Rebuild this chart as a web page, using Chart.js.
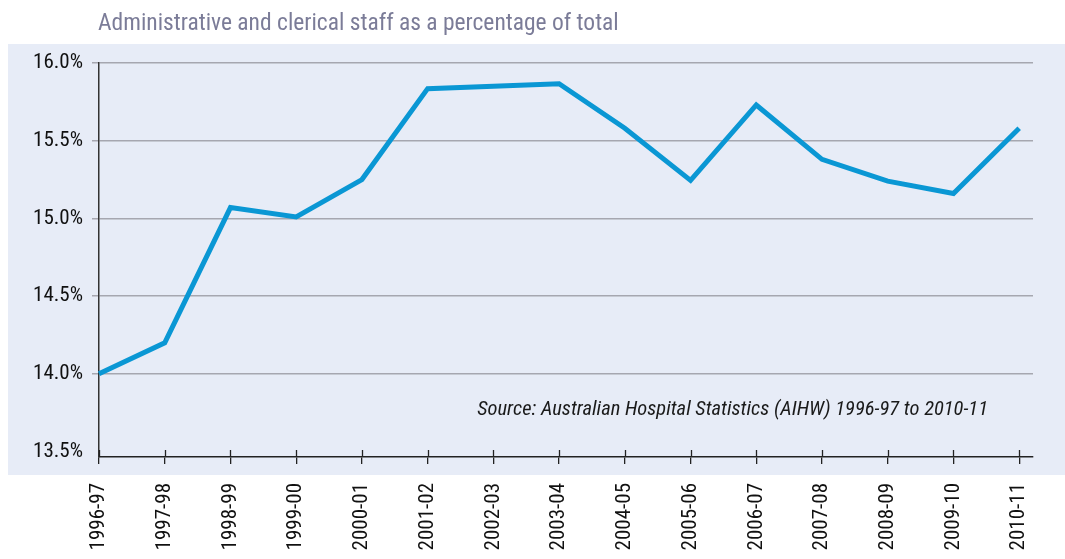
<!DOCTYPE html>
<html>
<head>
<meta charset="utf-8">
<script src="https://cdn.jsdelivr.net/npm/chart.js@4/dist/chart.umd.min.js"></script>
<style>
  html, body { margin:0; padding:0; background:#fff; overflow:hidden; }
  #wrap { width:1065px; height:600px; }
</style>
</head>
<body>
<div id="wrap"><canvas id="chart" width="1065" height="600"></canvas></div>
<script>
// Daten
const years = ['1996-97','1997-98','1998-99','1999-00','2000-01','2001-02','2002-03','2003-04','2004-05','2005-06','2006-07','2007-08','2008-09','2009-10','2010-11'];
const adminShare = [14.0, 14.2, 15.07, 15.01, 15.25, 15.835, 15.85, 15.867, 15.58, 15.245, 15.73, 15.38, 15.24, 15.16, 15.58];
const yTicks = [13.5, 14.0, 14.5, 15.0, 15.5, 16.0];
const titleText = 'Administrative and clerical staff as a percentage of total';
const sourceText = 'Source: Australian Hospital Statistics (AIHW) 1996-97 to 2010-11';

const FONT = "'Roboto Condensed', 'Liberation Sans', Arial, sans-serif";
const W = 1065, H = 600;

// Hintergrund, Titel, Quelle
const decor = {
  id:'decor',
  beforeDraw(chart){
    const ctx = chart.ctx;
    ctx.save();
    ctx.fillStyle = '#e7ecf7';
    ctx.fillRect(8, 44, W - 8, 431);
    ctx.fillStyle = '#7b7c98';
    ctx.font = '23.5px ' + FONT;
    ctx.textBaseline = 'alphabetic';
    ctx.fillText(titleText, 98, 30);
    ctx.restore();
  },
  afterDraw(chart){
    const ctx = chart.ctx;
    const x = chart.scales.x;
    ctx.save();
    // Tick-Striche nach oben
    ctx.strokeStyle = '#222';
    ctx.lineWidth = 1.3;
    x.ticks.forEach(t => {
      const px = Math.round(x.getPixelForValue(t.value)) + 0.5;
      ctx.beginPath(); ctx.moveTo(px, x.top - 7); ctx.lineTo(px, x.top); ctx.stroke();
    });
    ctx.fillStyle = '#1a1a1a';
    ctx.font = 'italic 20.5px ' + FONT;
    ctx.textAlign = 'right';
    ctx.textBaseline = 'middle';
    ctx.fillText(sourceText, 988, 410);
    ctx.restore();
  }
};

const ctx = document.getElementById('chart').getContext('2d');
new Chart(ctx, {
  type:'line',
  data:{
    datasets:[{
      label:'Admin & clerical',
      data: adminShare.map((v,i)=>({x:i, y:v})),
      borderColor:'#0a97d4',
      borderWidth:5,
      borderJoinStyle:'miter',
      pointRadius:0,
      tension:0,
      clip:false
    }]
  },
  options:{
    responsive:false,
    devicePixelRatio:1,
    animation:false,
    layout:{ padding:{ left:0, top:63, right:32, bottom:0 } },
    plugins:{ legend:{display:false}, title:{display:false}, tooltip:{enabled:false} },
    scales:{
      x:{
        type:'linear',
        min:0, max:14.21,
        afterBuildTicks: s => { s.ticks = years.map((_,i)=>({value:i})); },
        afterFit: s => { s.height = H - 457; },
        grid:{ drawOnChartArea:false, drawTicks:true, tickLength:7, color:'#222', lineWidth:1.3 },
        border:{ color:'#222', width:1.5 },
        ticks:{
          autoSkip:false, minRotation:90, maxRotation:90, padding:19,
          color:'#111', font:{ family:FONT, size:21 },
          callback: v => years[v]
        }
      },
      y:{
        min:13.465, max:16.0,
        afterBuildTicks: s => { s.ticks = yTicks.map(v=>({value:v})); },
        afterFit: s => { s.width = 99; },
        grid:{
          color: c => c.tick && c.tick.value === 13.5 ? 'rgba(0,0,0,0)' : '#a6a7b0',
          lineWidth:1.5, tickLength:7
        },
        border:{ color:'#333', width:1.5 },
        ticks:{
          padding:9, color:'#111', font:{ family:FONT, size:21 },
          callback: v => v.toFixed(1) + '%'
        }
      }
    }
  },
  plugins:[decor]
});
</script>
</body>
</html>
